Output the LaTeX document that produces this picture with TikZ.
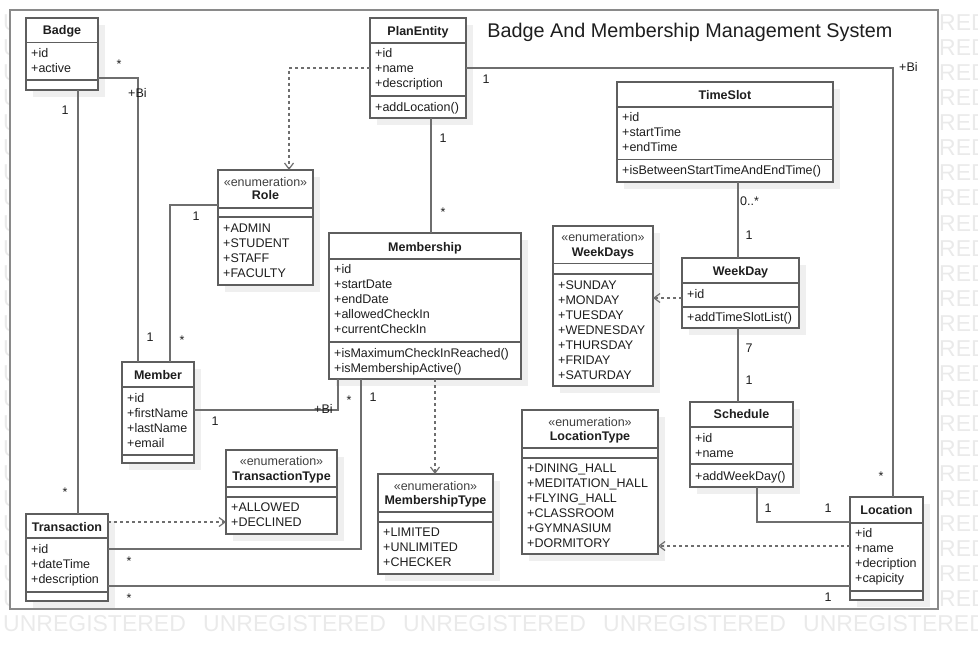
\documentclass[tikz,border=0pt]{standalone}
\usepackage{fontspec}
\setmainfont{Liberation Sans}
\usetikzlibrary{arrows.meta,shadows}

\definecolor{boxline}{HTML}{5E5E5E}
\definecolor{wireline}{HTML}{6E6E6E}
\definecolor{framecol}{HTML}{8A8A8A}
\definecolor{shadecol}{HTML}{EFEFEF}
\definecolor{markcol}{HTML}{EAEAEA}
\definecolor{inkcol}{HTML}{1E1E1E}

% class box: name, left, top, width, height
\newcommand{\umlrect}[5]{\node[umlbox, minimum width=#4pt, minimum height=#5pt] (#1) at (#2,#3) {};}
% horizontal compartment separator
\newcommand{\umlsep}[2]{\draw[boxline, line width=1.3pt] (#1.west |- 0,#2) -- (#1.east |- 0,#2);}
% compartment entry
\newcommand{\umlattr}[3]{\node[attrtxt] at (#1.west |- 0,#2) {#3};}
% class name (bold) and stereotype
\newcommand{\umlname}[3]{\node[nametxt] at (#1.center |- 0,#2) {#3};}
\newcommand{\umlstereo}[3]{\node[stereotxt] at (#1.center |- 0,#2) {#3};}

\begin{document}
\begin{tikzpicture}[x=1pt,y=-1pt,
  umlbox/.style={draw=boxline, line width=1.3pt, fill=white, inner sep=0pt, outer sep=0pt,
    anchor=north west,
    drop shadow={shadow xshift=7pt, shadow yshift=-7pt, fill=shadecol, opacity=1, draw=none}},
  basefont/.style={font=\fontsize{12.5}{15}\selectfont, text=inkcol, inner sep=0pt},
  attrtxt/.style={basefont, anchor=base west, xshift=5pt, yshift=-4.5pt},
  nametxt/.style={basefont, font=\fontsize{12.5}{15}\selectfont\bfseries, anchor=base, yshift=-4.5pt},
  stereotxt/.style={basefont, text=inkcol!85, anchor=base, yshift=-4.5pt},
  lbl/.style={basefont, anchor=base},
  lblw/.style={basefont, anchor=base west},
  wm/.style={inner sep=0pt, anchor=base west, font=\fontsize{23}{23}\selectfont, text=markcol},
  wire/.style={draw=wireline, line width=1.3pt},
  dep/.style={draw=wireline, line width=1.3pt, dash pattern=on 3pt off 3pt,
    -{Straight Barb[length=6pt,width=9pt,line width=1.2pt]}},
]
\useasboundingbox (0,0) rectangle (978,650);

% background lettering around the frame
\foreach \r in {0,...,23} {
  \node[wm] (wmL\r) at (3,{31+25*\r}) {U};
  \node[wm, anchor=base east] (wmR\r) at (988,{31+25*\r}) {RED};
}
\foreach \c in {0,...,4} {
  \node[wm] (wmB\c) at ({3+200*\c},631) {UNREGISTERED};
}

% diagram frame
\fill[white] (10,10) rectangle (938,609);
\draw[framecol, line width=2pt] (10,10) rectangle (938,609);
\node[font=\fontsize{19.8}{22}\selectfont, text=inkcol, inner sep=0pt, anchor=base] (title) at (690,38)
  {Badge And Membership Management System};

% ---------- classes ----------
% Badge
\umlrect{badge}{26}{18}{72}{72}
\umlsep{badge}{42.5}\umlsep{badge}{80}
\umlname{badge}{30.5}{Badge}
\umlattr{badge}{53}{+id}\umlattr{badge}{68}{+active}

% PlanEntity
\umlrect{plan}{370}{18}{96}{100}
\umlsep{plan}{43}\umlsep{plan}{96}
\umlname{plan}{31}{PlanEntity}
\umlattr{plan}{53}{+id}\umlattr{plan}{68}{+name}\umlattr{plan}{83}{+description}
\umlattr{plan}{107}{+addLocation()}

% TimeSlot
\umlrect{timeslot}{617}{82}{216}{100}
\umlsep{timeslot}{107}\umlsep{timeslot}{159.5}
\umlname{timeslot}{95}{TimeSlot}
\umlattr{timeslot}{117}{+id}\umlattr{timeslot}{132}{+startTime}\umlattr{timeslot}{147}{+endTime}
\umlattr{timeslot}{170}{+isBetweenStartTimeAndEndTime()}

% Role
\umlrect{role}{218}{170}{95}{115}
\umlsep{role}{208}\umlsep{role}{217}
\umlstereo{role}{182}{«enumeration»}
\umlname{role}{195.5}{Role}
\umlattr{role}{228}{+ADMIN}\umlattr{role}{243}{+STUDENT}
\umlattr{role}{258}{+STAFF}\umlattr{role}{273}{+FACULTY}

% Membership
\umlrect{membership}{329}{233}{192}{146}
\umlsep{membership}{259}\umlsep{membership}{342}
\umlname{membership}{247}{Membership}
\umlattr{membership}{269}{+id}\umlattr{membership}{284}{+startDate}
\umlattr{membership}{299}{+endDate}\umlattr{membership}{314}{+allowedCheckIn}
\umlattr{membership}{329}{+currentCheckIn}
\umlattr{membership}{353}{+isMaximumCheckInReached()}
\umlattr{membership}{368}{+isMembershipActive()}

% WeekDays
\umlrect{weekdays}{553}{226}{100}{160}
\umlsep{weekdays}{263.5}\umlsep{weekdays}{274}
\umlstereo{weekdays}{237}{«enumeration»}
\umlname{weekdays}{251.5}{WeekDays}
\umlattr{weekdays}{285}{+SUNDAY}\umlattr{weekdays}{300}{+MONDAY}
\umlattr{weekdays}{315}{+TUESDAY}\umlattr{weekdays}{330}{+WEDNESDAY}
\umlattr{weekdays}{345}{+THURSDAY}\umlattr{weekdays}{360}{+FRIDAY}
\umlattr{weekdays}{375}{+SATURDAY}

% WeekDay
\umlrect{weekday}{682}{258}{117}{70}
\umlsep{weekday}{283}\umlsep{weekday}{307}
\umlname{weekday}{271}{WeekDay}
\umlattr{weekday}{294}{+id}
\umlattr{weekday}{317}{+addTimeSlotList()}

% Member
\umlrect{member}{122}{362}{72}{101}
\umlsep{member}{387}\umlsep{member}{455}
\umlname{member}{374.5}{Member}
\umlattr{member}{398}{+id}\umlattr{member}{413}{+firstName}
\umlattr{member}{428}{+lastName}\umlattr{member}{443}{+email}

% TransactionType
\umlrect{ttype}{226}{450}{111}{84}
\umlsep{ttype}{487}\umlsep{ttype}{497}
\umlstereo{ttype}{460.5}{«enumeration»}
\umlname{ttype}{476}{TransactionType}
\umlattr{ttype}{507}{+ALLOWED}\umlattr{ttype}{522}{+DECLINED}

% MembershipType
\umlrect{mtype}{378}{474}{115}{100}
\umlsep{mtype}{512}\umlsep{mtype}{522}
\umlstereo{mtype}{485.5}{«enumeration»}
\umlname{mtype}{499.5}{MembershipType}
\umlattr{mtype}{532}{+LIMITED}\umlattr{mtype}{547}{+UNLIMITED}\umlattr{mtype}{562}{+CHECKER}

% LocationType
\umlrect{ltype}{522}{410}{136}{144}
\umlsep{ltype}{448}\umlsep{ltype}{458}
\umlstereo{ltype}{421.5}{«enumeration»}
\umlname{ltype}{435.5}{LocationType}
\umlattr{ltype}{468}{+DINING\_HALL}\umlattr{ltype}{483}{+MEDITATION\_HALL}
\umlattr{ltype}{498}{+FLYING\_HALL}\umlattr{ltype}{513}{+CLASSROOM}
\umlattr{ltype}{528}{+GYMNASIUM}\umlattr{ltype}{543}{+DORMITORY}

% Schedule
\umlrect{schedule}{690}{402}{103}{85}
\umlsep{schedule}{427}\umlsep{schedule}{464}
\umlname{schedule}{414}{Schedule}
\umlattr{schedule}{438}{+id}\umlattr{schedule}{453}{+name}
\umlattr{schedule}{476}{+addWeekDay()}

% Location
\umlrect{location}{850}{497}{73}{103}
\umlsep{location}{523}\umlsep{location}{591}
\umlname{location}{510}{Location}
\umlattr{location}{533}{+id}\umlattr{location}{548}{+name}
\umlattr{location}{563}{+decription}\umlattr{location}{578}{+capicity}

% Transaction
\umlrect{transaction}{26}{514}{82}{87}
\umlsep{transaction}{538}\umlsep{transaction}{592}
\umlname{transaction}{527}{Transaction}
\umlattr{transaction}{549}{+id}\umlattr{transaction}{564}{+dateTime}
\umlattr{transaction}{579}{+description}

% ---------- associations ----------
\draw[wire] (badge.east |- 0,78) -| (member.north -| 138,0);
\draw[wire] (78,0 |- badge.south) -- (78,0 |- transaction.north);
\draw[wire] (role.west |- 0,205) -| (member.north -| 170,0);
\draw[wire] (plan.east |- 0,68) -| (location.north -| 893,0);
\draw[wire] (431,0 |- plan.south) -- (431,0 |- membership.north);
\draw[wire] (738,0 |- timeslot.south) -- (738,0 |- weekday.north);
\draw[wire] (738,0 |- weekday.south) -- (738,0 |- schedule.north);
\draw[wire] (757,0 |- schedule.south) |- (location.west |- 0,522);
\draw[wire] (member.east |- 0,410) -| (338,0 |- membership.south);
\draw[wire] (361,0 |- membership.south) |- (transaction.east |- 0,549);
\draw[wire] (transaction.east |- 0,586) -- (location.west |- 0,586);

% ---------- dependencies ----------
\draw[dep] (plan.west |- 0,68) -| (289,0 |- role.north);
\draw[dep] (weekday.west |- 0,298) -- (weekdays.east |- 0,298);
\draw[dep] (435,0 |- membership.south) -- (435,0 |- mtype.north);
\draw[dep] (location.west |- 0,546) -- (ltype.east |- 0,546);
\draw[dep] (transaction.east |- 0,522) -- (ttype.west |- 0,522);

% ---------- multiplicities and role names ----------
\node[lbl] at (119,69) {*};
\node[lblw] at (128,97.5) {+Bi};
\node[lbl] at (150,341.5) {1};
\node[lbl] at (65,114.5) {1};
\node[lbl] at (65,496) {*};
\node[lbl] at (196,220.5) {1};
\node[lbl] at (182,344) {*};
\node[lbl] at (486,83.5) {1};
\node[lblw] at (899,71.5) {+Bi};
\node[lbl] at (881,480) {*};
\node[lbl] at (443,142.5) {1};
\node[lbl] at (443,216) {*};
\node[lblw] at (740,206) {0..*};
\node[lbl] at (749,239.5) {1};
\node[lbl] at (749,352.5) {7};
\node[lbl] at (749,384.5) {1};
\node[lbl] at (768,512.5) {1};
\node[lbl] at (828,512.5) {1};
\node[lblw] at (314,413.5) {+Bi};
\node[lbl] at (215,425.5) {1};
\node[lbl] at (349,404) {*};
\node[lbl] at (373,401.5) {1};
\node[lbl] at (129,565) {*};
\node[lbl] at (129,602) {*};
\node[lbl] at (828,601.5) {1};
\end{tikzpicture}
\end{document}
